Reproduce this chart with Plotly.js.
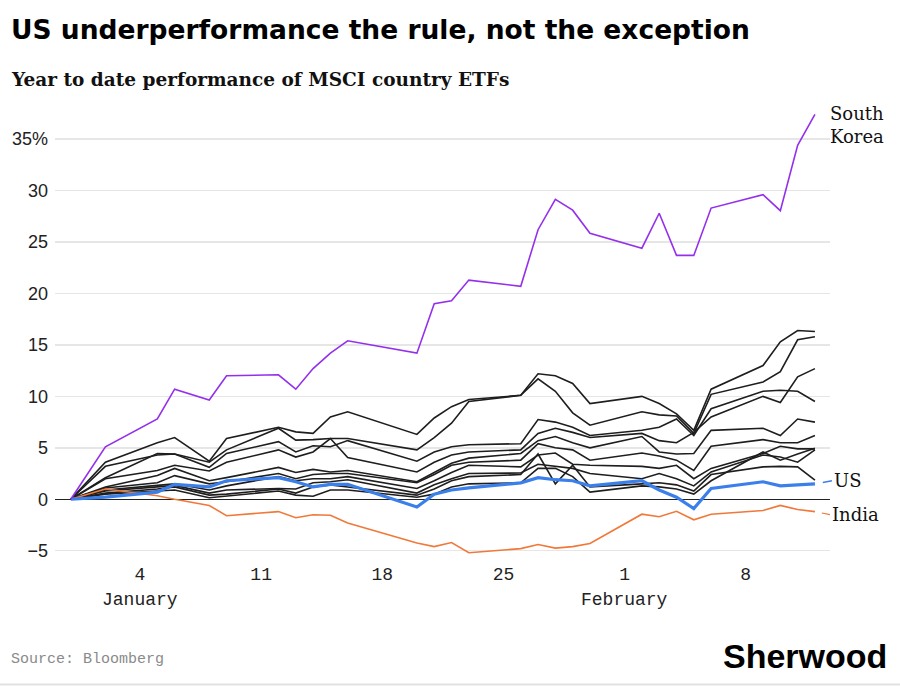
<!DOCTYPE html>
<html>
<head>
<meta charset="utf-8">
<script src="https://cdn.plot.ly/plotly-3.0.1.min.js"></script>
<style>
  html, body { margin: 0; padding: 0; background: #fff; }
  #chart { width: 900px; height: 686px; }
</style>
</head>
<body>
<div id="chart"></div>
<script>
// trading days, Dec 31 2025 = start (no Jan 7 point in the source chart)
const dates = [
  '2025-12-31', '2026-01-02', '2026-01-05', '2026-01-06', '2026-01-08', '2026-01-09',
  '2026-01-12', '2026-01-13', '2026-01-14', '2026-01-15', '2026-01-16',
  '2026-01-20', '2026-01-21', '2026-01-22', '2026-01-23',
  '2026-01-26', '2026-01-27', '2026-01-28', '2026-01-29', '2026-01-30',
  '2026-02-02', '2026-02-03', '2026-02-04', '2026-02-05', '2026-02-06',
  '2026-02-09', '2026-02-10', '2026-02-11', '2026-02-12'
]

const southKorea = [0, 5.1, 7.8, 10.7, 9.65, 12.0, 12.1, 10.7, 12.7, 14.2, 15.4, 14.2, 19.0, 19.3, 21.3,
  20.7, 26.2, 29.15, 28.1, 25.85, 24.4, 27.8, 23.7, 23.7, 28.3, 29.6, 28.05, 34.4, 37.4]
const us = [0, 0.2, 0.7, 1.45, 1.2, 1.8, 2.1, 1.7, 1.2, 1.45, 1.45, -0.75, 0.5, 0.9, 1.1,
  1.6, 2.1, 1.9, 1.8, 1.3, 1.8, 0.9, 0.2, -0.9, 1.05, 1.7, 1.3, 1.4, 1.5]
const india = [0, 1.0, 0.35, 0.0, -0.6, -1.6, -1.2, -1.8, -1.5, -1.55, -2.3, -4.25, -4.6, -4.2, -5.2,
  -4.8, -4.4, -4.75, -4.6, -4.3, -1.45, -1.7, -1.17, -2.0, -1.45, -1.1, -0.6, -1.0, -1.2]

// the other country ETFs, all drawn in dark grey
const others = [
  [0, 3.6, 5.5, 6.0, 3.7, 5.9, 7.0, 6.55, 6.4, 8.0, 8.5, 6.3, 7.9, 9.0, 9.7, 10.1, 12.2, 12.0, 11.25, 9.3, 10.0, 9.3, 8.3, 6.7, 10.7, 13.0, 15.3, 16.4, 16.3],
  [0, 2.1, 4.45, 4.4, 3.6, 4.8, 6.9, 5.75, 5.8, 5.9, 5.9, 4.8, 6.0, 7.4, 9.5, 10.1, 11.7, 10.5, 8.4, 7.2, 8.5, 8.2, 8.1, 6.4, 10.2, 11.4, 12.4, 15.5, 15.8],
  [0, 3.2, 4.3, 4.4, 3.1, 4.45, 5.6, 4.6, 5.2, 5.1, 5.7, 3.7, 4.6, 5.1, 5.3, 5.4, 7.75, 7.5, 7.0, 6.2, 6.7, 7.0, 7.8, 6.2, 8.8, 10.5, 10.6, 10.5, 9.5],
  [0, 2.0, 2.8, 3.3, 2.75, 3.6, 4.8, 4.1, 4.6, 5.9, 4.05, 2.65, 3.6, 4.3, 4.6, 4.8, 6.4, 6.9, 6.5, 6.0, 6.4, 5.7, 5.5, 6.5, 8.0, 10.0, 9.4, 11.9, 12.7],
  [0, 1.2, 2.3, 3.0, 1.8, 2.1, 3.1, 2.6, 2.9, 2.65, 2.8, 1.7, 2.6, 3.5, 4.0, 4.45, 5.7, 6.1, 5.5, 5.0, 6.1, 4.6, 4.4, 4.45, 6.7, 6.9, 6.2, 7.8, 7.5],
  [0, 1.1, 1.6, 2.3, 1.5, 1.7, 2.5, 2.0, 2.4, 2.5, 2.5, 1.6, 2.4, 3.3, 3.6, 3.8, 5.4, 5.0, 4.8, 3.8, 4.5, 4.2, 3.8, 2.8, 5.15, 5.8, 5.5, 5.5, 6.2],
  [0, 0.9, 1.35, 1.5, 0.9, 1.3, 2.2, 1.8, 2.0, 2.0, 2.2, 1.05, 1.8, 2.6, 3.3, 3.15, 4.3, 4.5, 3.4, 3.3, 3.2, 3.0, 3.3, 2.0, 3.0, 4.45, 5.15, 4.9, 4.9],
  [0, 0.8, 1.2, 1.35, 0.6, 0.9, 1.05, 1.0, 1.6, 1.7, 1.9, 0.6, 1.4, 2.0, 2.5, 2.55, 3.4, 3.2, 3.0, 2.5, 2.0, 2.5, 2.0, 1.3, 2.65, 4.3, 4.1, 3.6, 4.8],
  [0, 0.6, 1.0, 1.2, 0.4, 0.5, 1.0, 0.6, 1.2, 1.4, 1.2, 0.4, 1.0, 1.8, 2.2, 2.4, 4.4, 1.5, 3.3, 1.2, 1.5, 1.6, 1.4, 0.8, 2.4, 3.15, 3.2, 3.15, 1.85],
  [0, 0.5, 0.8, 0.9, 0.15, 0.3, 0.8, 0.4, 0.3, 0.9, 0.9, 0.2, 0.5, 1.2, 1.5, 1.6, 3.0, 3.0, 2.2, 0.7, 1.3, 1.2, 1.0, 0.5, 1.8, 4.6, 3.8, 4.4, 4.95]
]

const yTickVals = [-5, 0, 5, 10, 15, 20, 25, 30, 35]
const yTickText = ['\u22125', '0', '5', '10', '15', '20', '25', '30', '35%']
const xTickVals = ['2026-01-04', '2026-01-11', '2026-01-18', '2026-01-25', '2026-02-01', '2026-02-08']
const xTickText = ['4', '11', '18', '25', '1', '8']
const months = [['2026-01-04', 'January'], ['2026-02-01', 'February']]

const W = 900, H = 686
const M = { l: 55, r: 70, t: 98, b: 125 }
// page pixels -> paper coords
const px = x => (x - M.l) / (W - M.l - M.r)
const py = y => (H - M.b - y) / (H - M.t - M.b)

const last = dates[dates.length - 1]
const serif = 'DejaVu Serif, Georgia, serif'
const mono = 'Liberation Mono, DejaVu Sans Mono, monospace'

let traces = []
others.forEach(vals => {
  traces.push({
    x: dates, y: vals, mode: 'lines', type: 'scatter', hoverinfo: 'none',
    line: { color: '#1e1e1e', width: 1.6 }
  })
})
traces.push({ x: dates, y: india, mode: 'lines', type: 'scatter', hoverinfo: 'none',
  line: { color: '#f0793a', width: 1.6 } })
traces.push({ x: dates, y: us, mode: 'lines', type: 'scatter', hoverinfo: 'none',
  line: { color: '#3b7fea', width: 3.2 } })
traces.push({ x: dates, y: southKorea, mode: 'lines', type: 'scatter', hoverinfo: 'none',
  line: { color: '#9430ec', width: 1.6 } })

let annotations = [
  { text: '<b>Year to date performance of MSCI country ETFs</b>', xref: 'paper', yref: 'paper',
    x: px(9), y: py(79), xanchor: 'left', yanchor: 'middle', showarrow: false,
    font: { family: serif, size: 18.5, color: '#111' } },
  { text: 'Source: Bloomberg', xref: 'paper', yref: 'paper',
    x: px(9), y: py(659), xanchor: 'left', yanchor: 'middle', showarrow: false,
    font: { family: mono, size: 15, color: '#8a8a8a' } },
  { text: '<b>Sherwood</b>', xref: 'paper', yref: 'paper',
    x: px(889), y: py(656), xanchor: 'right', yanchor: 'middle', showarrow: false,
    font: { family: 'Liberation Sans, Arial, sans-serif', size: 34, color: '#000' } },
  { text: 'South<br>Korea', xref: 'x', yref: 'y', x: last, y: southKorea[southKorea.length - 1],
    xanchor: 'left', yanchor: 'top', xshift: 13, yshift: 13, align: 'left', showarrow: false,
    font: { family: serif, size: 18, color: '#111' } },
  { text: 'US', xref: 'x', yref: 'y', x: last, y: us[us.length - 1],
    ax: 17, ay: -3, axref: 'pixel', ayref: 'pixel', xanchor: 'left', yanchor: 'middle',
    showarrow: true, arrowhead: 0, arrowwidth: 1.5, arrowcolor: '#3b7fea', standoff: 8,
    font: { family: serif, size: 18, color: '#111' } },
  { text: 'India', xref: 'x', yref: 'y', x: last, y: india[india.length - 1],
    ax: 15, ay: 3, axref: 'pixel', ayref: 'pixel', xanchor: 'left', yanchor: 'middle',
    showarrow: true, arrowhead: 0, arrowwidth: 1.2, arrowcolor: '#f0793a', standoff: 7,
    font: { family: serif, size: 18, color: '#111' } }
]
months.forEach(m => {
  annotations.push({ text: m[1], xref: 'x', yref: 'paper', x: m[0], y: py(600),
    xanchor: 'center', yanchor: 'middle', showarrow: false,
    font: { family: mono, size: 18, color: '#222' } })
})

const layout = {
  width: W, height: H,
  margin: M,
  paper_bgcolor: '#fff', plot_bgcolor: '#fff',
  showlegend: false,
  title: {
    text: '<b>US underperformance the rule, not the exception</b>',
    x: 11 / W, xanchor: 'left', xref: 'container',
    y: 1 - 30 / H, yanchor: 'middle', yref: 'container',
    font: { family: 'DejaVu Sans, Liberation Sans, sans-serif', size: 26.5, color: '#000' }
  },
  xaxis: {
    type: 'date',
    range: ['2025-12-30 02:05', '2026-02-12 20:53'],
    tickvals: xTickVals, ticktext: xTickText,
    showgrid: false, zeroline: false, showline: false, ticks: '',
    tickfont: { family: mono, size: 18, color: '#222' }
  },
  yaxis: {
    range: [-6, 39],
    tickvals: yTickVals, ticktext: yTickText,
    showgrid: true, gridcolor: '#e6e6e6', gridwidth: 1.5,
    zeroline: true, zerolinecolor: '#222', zerolinewidth: 1.5,
    showline: false, ticks: '', ticklabelstandoff: 6,
    tickfont: { family: 'Liberation Sans, Arial, sans-serif', size: 18, color: '#222' }
  },
  annotations: annotations,
  shapes: [
    { type: 'line', xref: 'paper', yref: 'paper', x0: px(0), x1: px(W), y0: py(684.5), y1: py(684.5),
      line: { color: '#e2e2e2', width: 2 } }
  ]
}

Plotly.newPlot('chart', traces, layout, { staticPlot: true, displayModeBar: false })
</script>
</body>
</html>
